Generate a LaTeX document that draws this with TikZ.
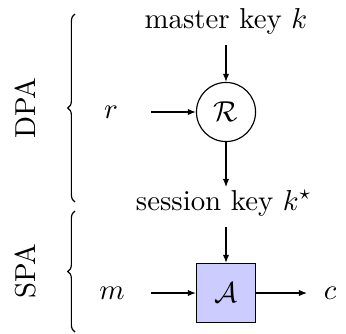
\documentclass[tikz,border=0pt]{standalone}
\usetikzlibrary{decorations.pathreplacing, arrows.meta}
\begin{document}
\begin{tikzpicture}[x=0.347pt, y=-0.347pt,
  flow/.style={-{Latex[length=2.8pt, width=2.2pt]}},
  roundop/.style={circle, draw, minimum size=20.5pt, inner sep=0pt},
  boxop/.style={rectangle, draw, fill=blue!20, minimum size=20.5pt, inner sep=0pt},
  grp/.style={decorate, decoration={brace, amplitude=2.5pt}},
  grplabel/.style={rotate=90}]
  \useasboundingbox (0,0) rectangle (346,333);

  % key derivation stage
  \node[anchor=base] (mk) at (226,28) {master key $k$};
  \node[roundop] (R) at (226,112) {$\mathcal{R}$};
  \node (r) at (111,112) {$r$};
  \coordinate (mkout) at (226,45);
  \coordinate (rout) at (151,112);
  \coordinate (skin) at (226,187);
  \draw[flow] (mkout) -- (R);
  \draw[flow] (rout) -- (R);
  \draw[flow] (R) -- (skin);

  % encryption stage
  \node[anchor=base] (sk) at (224,210) {session key $k^\star$};
  \node[boxop] (A) at (226,293) {$\mathcal{A}$};
  \node (m) at (112,293) {$m$};
  \node (c) at (330,293) {$c$};
  \coordinate (skout) at (226,227);
  \coordinate (mout) at (151,293);
  \coordinate (cin) at (307,293);
  \draw[flow] (skout) -- (A);
  \draw[flow] (mout) -- (A);
  \draw[flow] (A) -- (cin);

  % attack scopes
  \coordinate (dpaB) at (75,202);
  \coordinate (dpaT) at (75,14);
  \coordinate (spaB) at (75,332);
  \coordinate (spaT) at (75,211);
  \draw[grp] (dpaB) -- (dpaT);
  \draw[grp] (spaB) -- (spaT);
  \node[grplabel] (dpa) at (25,108) {DPA};
  \node[grplabel] (spa) at (25,271) {SPA};
\end{tikzpicture}
\end{document}
